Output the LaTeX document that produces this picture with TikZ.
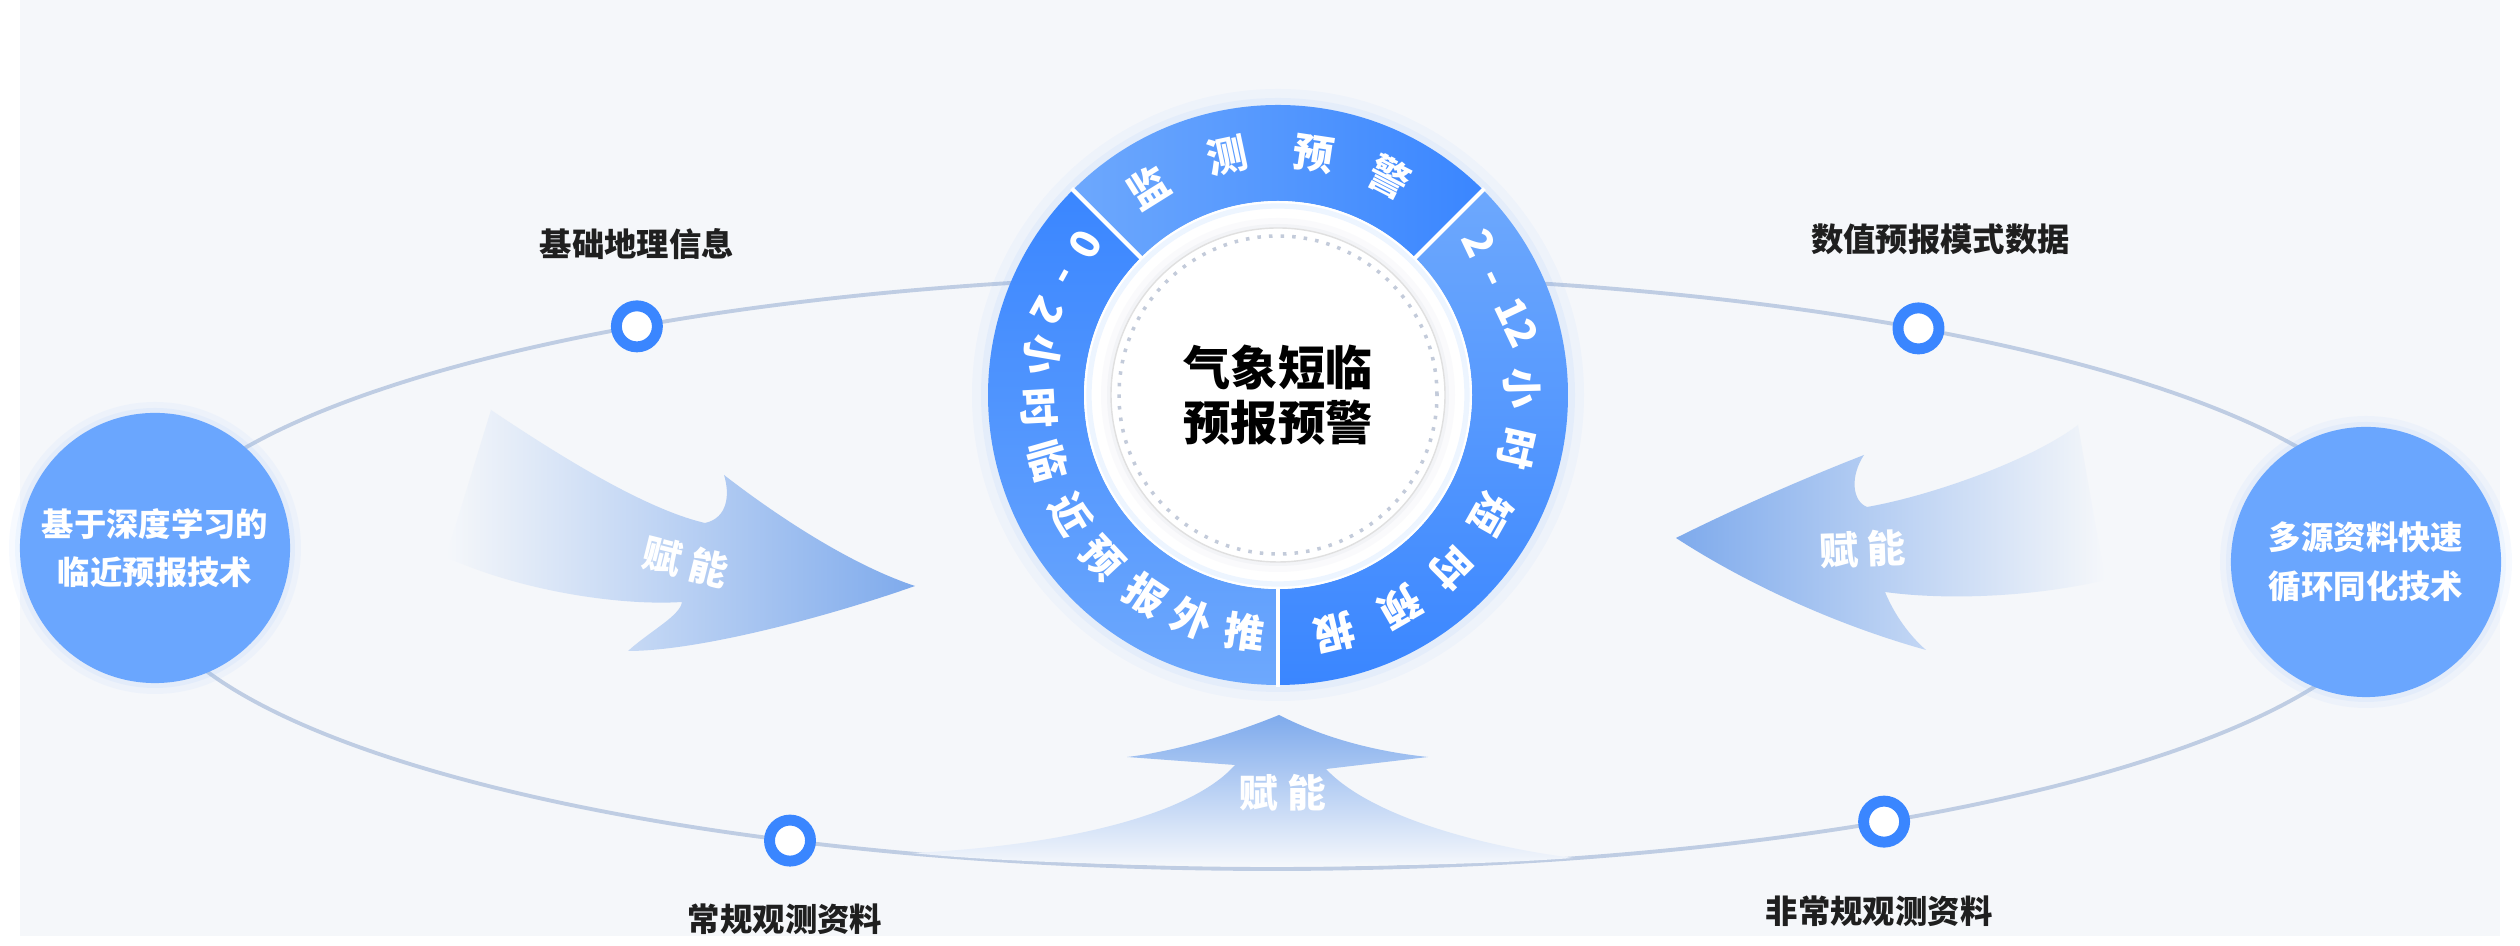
\documentclass[tikz,border=0pt]{standalone}
\usepackage{fontspec}
\setmainfont{Noto Sans CJK SC}
\usetikzlibrary{calc,positioning}

\definecolor{bggray}{HTML}{F5F7FA}
\definecolor{orbitline}{HTML}{BFCDE3}
\definecolor{ringdark}{HTML}{3A86FF}
\definecolor{ringlight}{HTML}{6DA8FD}
\definecolor{techblue}{HTML}{6AA6FE}
\definecolor{flowblue}{HTML}{7EAAEC}
\definecolor{dotgray}{HTML}{C3CBDA}
\definecolor{labelblack}{HTML}{1F1F1F}

\begin{document}
\begin{tikzpicture}[x=0.01cm, y=0.01cm,
        orbit/.style={draw=orbitline, line width=1.1pt},
        marker/.style={circle, fill=white, draw=ringdark, line width=3.1pt, minimum size=0.41cm, inner sep=0pt},
        datalabel/.style={font=\bfseries\fontsize{9.2}{11}\selectfont, text=labelblack, inner sep=0pt},
        techcircle/.style={circle, fill=techblue, minimum size=2.7cm, inner sep=0pt, align=center, text=white, font=\bfseries\fontsize{9.2}{13.7}\selectfont},
        ringtext/.style={text=white, font=\bfseries\fontsize{11.5}{12}\selectfont, inner sep=0pt, text height=0.8em, text depth=0.08em},
        flowtext/.style={text=white, font=\bfseries\fontsize{11}{12}\selectfont, inner sep=0pt}]
                    \useasboundingbox (0, 0) rectangle (2520, 946);
                    \fill [bggray] (20, 10) rectangle (2500, 946);
                    \coordinate (O) at (1272, 374);
                    \coordinate (C) at (1278, 551);
                    \coordinate (L) at (155, 398);
                    \coordinate (R) at (2366, 384);
                    \draw [orbit] (O) ellipse [x radius=1130, y radius=297];

                    \shade [left color=bggray, middle color=flowblue, right color=flowblue]
                        (491, 536) .. controls (545, 500) and (640, 438) .. (705, 423)
                        .. controls (728, 428) and (730, 452) .. (724, 471)
                        .. controls (790, 420) and (860, 378) .. (915, 360)
                        .. controls (830, 330) and (700, 295) .. (628, 295)
                        .. controls (650, 315) and (680, 330) .. (682, 344)
                        .. controls (620, 340) and (520, 355) .. (446, 389)
                        -- cycle;
                    \shade [left color=flowblue, middle color=flowblue, right color=bggray]
                        (1676, 408) .. controls (1740, 440) and (1810, 470) .. (1864, 491)
                        .. controls (1850, 470) and (1852, 445) .. (1867, 439)
                        .. controls (1930, 450) and (2030, 485) .. (2078, 521)
                        -- (2105, 366)
                        .. controls (2040, 350) and (1950, 345) .. (1885, 354)
                        .. controls (1895, 330) and (1910, 310) .. (1926, 296)
                        .. controls (1840, 320) and (1750, 360) .. (1676, 408)
                        -- cycle;
                    \shade [top color=flowblue, middle color=flowblue!80!bggray, bottom color=bggray!60!white]
                        (1279, 231) .. controls (1240, 215) and (1180, 195) .. (1127, 189)
                        -- (1235, 181)
                        .. controls (1190, 130) and (1060, 100) .. (912, 93)
                        .. controls (1050, 78) and (1400, 75) .. (1573, 88)
                        .. controls (1480, 100) and (1370, 130) .. (1326, 177)
                        -- (1428, 189)
                        .. controls (1370, 195) and (1320, 210) .. (1279, 231)
                        -- cycle;
                    \node [flowtext, rotate=-14] (flowleft) at (686, 384) {赋 能};
                    \node [flowtext, rotate=2] (flowright) at (1863, 397) {赋 能};
                    \node [flowtext] (flowup) at (1283, 153) {赋 能};

                    \fill [techblue, opacity=0.05] (L) circle (146);
                    \fill [techblue, opacity=0.07] (L) circle (140);
                    \node [techcircle] (deep) at (L) {基于深度学习的\\临近预报技术};
                    \fill [techblue, opacity=0.05] (R) circle (146);
                    \fill [techblue, opacity=0.07] (R) circle (140);
                    \node [techcircle] (assim) at (R) {多源资料快速\\循环同化技术};

                    \fill [ringdark, opacity=0.035] (C) circle (306);
                    \fill [ringdark, opacity=0.05] (C) circle (297);
                    \shade [left color=ringlight, right color=ringdark] ($ (C) + (45:290) $) arc [start angle=45, end angle=135, radius=290] -- ($ (C) + (135:194) $) arc [start angle=135, end angle=45, radius=194] -- cycle;
                    \shade [top color=ringdark, bottom color=ringlight] ($ (C) + (135:290) $) arc [start angle=135, end angle=270, radius=290] -- ($ (C) + (270:194) $) arc [start angle=270, end angle=135, radius=194] -- cycle;
                    \shade [top color=ringlight, bottom color=ringdark] ($ (C) + (-90:290) $) arc [start angle=-90, end angle=45, radius=290] -- ($ (C) + (45:194) $) arc [start angle=45, end angle=-90, radius=194] -- cycle;
                    \draw [white, line width=1.2pt] ($ (C) + (45:190) $) -- ($ (C) + (45:292) $);
                    \draw [white, line width=1.2pt] ($ (C) + (135:190) $) -- ($ (C) + (135:292) $);
                    \draw [white, line width=1.2pt] ($ (C) + (270:190) $) -- ($ (C) + (270:292) $);
                    \fill [white] (C) circle (194);
                    \draw [ringlight!12, line width=1.5pt] (C) circle (189);
                    \fill [dotgray, opacity=0.08] (C) circle (177);
                    \fill [dotgray, opacity=0.12] (C) circle (171);
                    \fill [white] (C) circle (167);
                    \draw [black!12, line width=0.4pt] (C) circle (167);
                    \draw [dotgray, line width=1pt, dash pattern=on 1pt off 2.3pt] (C) circle (159);
                    \node [align=center, text=black, font=\bfseries\fontsize{13.4}{15.6}\selectfont] (title) at (C) {气象短临\\预报预警};

                    \node [ringtext, rotate=32] (t1) at ($ (C) + (122:242) $) {监};
                    \node [ringtext, rotate=12] (t2) at ($ (C) + (102:242) $) {测};
                    \node [ringtext, rotate=-8.5] (t3) at ($ (C) + (81.5:242) $) {预};
                    \node [ringtext, rotate=-27.2] (t4) at ($ (C) + (62.8:242) $) {警};

                    \node [ringtext, rotate=241] (l1) at ($ (C) + (151:244) $) {0\hspace{0.45em}-\hspace{0.45em}2};
                    \node [ringtext, rotate=260.3] (l4) at ($ (C) + (170.3:242) $) {小};
                    \node [ringtext, rotate=273] (l5) at ($ (C) + (183:242) $) {时};
                    \node [ringtext, rotate=286] (l6) at ($ (C) + (196:242) $) {临};
                    \node [ringtext, rotate=300] (l7) at ($ (C) + (210:242) $) {近};
                    \node [ringtext, rotate=313] (l8) at ($ (C) + (223:242) $) {预};
                    \node [ringtext, rotate=326.5] (l9) at ($ (C) + (236.5:242) $) {报};
                    \node [ringtext, rotate=339] (l10) at ($ (C) + (249:242) $) {外};
                    \node [ringtext, rotate=352] (l11) at ($ (C) + (262:242) $) {推};

                    \node [ringtext, rotate=-64.5] (r1) at ($ (C) + (25.5:245) $) {2\hspace{0.42em}-\hspace{0.45em}12};
                    \node [ringtext, rotate=-88.5] (r4) at ($ (C) + (1.5:242) $) {小};
                    \node [ringtext, rotate=-102.7] (r5) at ($ (C) + (-12.7:242) $) {时};
                    \node [ringtext, rotate=-119.4] (r6) at ($ (C) + (-29.4:242) $) {短};
                    \node [ringtext, rotate=-135] (r7) at ($ (C) + (-45:242) $) {时};
                    \node [ringtext, rotate=-150] (r8) at ($ (C) + (-60:242) $) {预};
                    \node [ringtext, rotate=-166.7] (r9) at ($ (C) + (-76.7:242) $) {报};

                    \node [marker] (geo) at ($ (O) + (124.2:1130 and 297) $) {};
                    \node [marker] (nwp) at ($ (O) + (55.1:1130 and 297) $) {};
                    \node [marker] (conv) at ($ (O) + (244.75:1130 and 297) $) {};
                    \node [marker] (nonconv) at ($ (O) + (302.8:1130 and 297) $) {};
                    \node [datalabel] (geotext) at ($ (geo) + (0, 82) $) {基础地理信息};
                    \node [datalabel] (nwptext) at ($ (nwp) + (22, 89) $) {数值预报模式数据};
                    \node [datalabel] (convtext) at ($ (conv) + (-5, -79) $) {常规观测资料};
                    \node [datalabel] (nonconvtext) at ($ (nonconv) + (-5, -90) $) {非常规观测资料};
                \end{tikzpicture}
\end{document}
